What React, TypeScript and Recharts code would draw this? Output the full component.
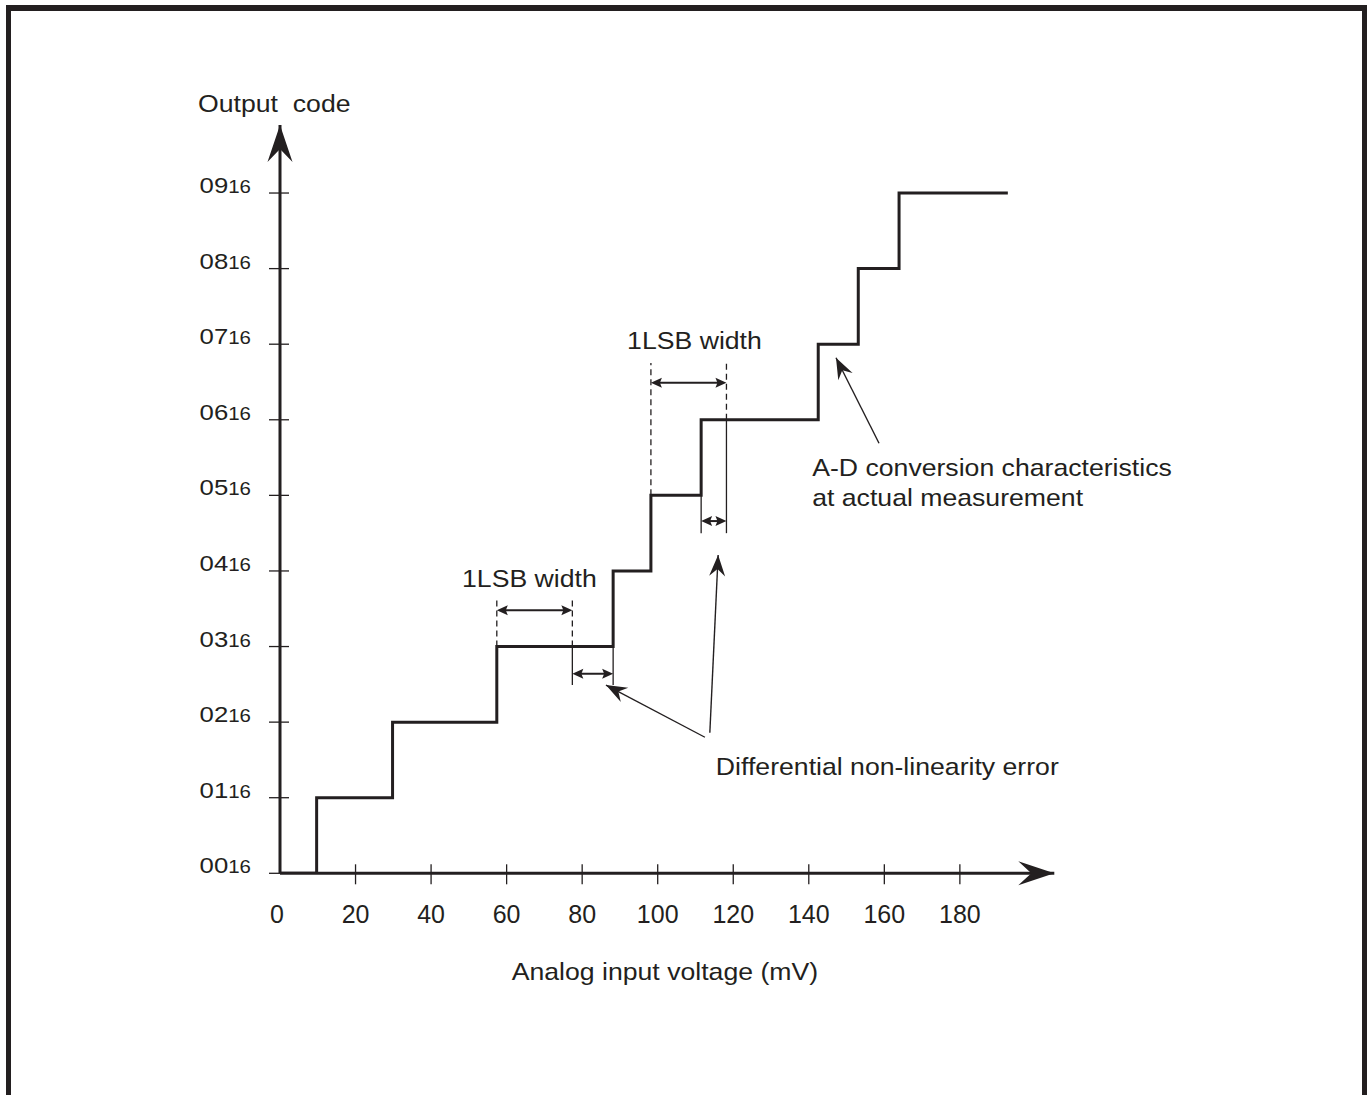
import React from 'react';
import { LineChart, Line, XAxis, YAxis, ReferenceLine, ReferenceDot } from 'recharts';

const INK = '#231f20';
const FONT = '"Liberation Sans", Arial, Helvetica, sans-serif';
const STRETCH = 1.11; // lettering in the original is a bit wider than Liberation Sans

// measured A-D characteristic: voltage (mV) where each code starts
const voltages = [0, 9.7, 29.8, 57.4, 88.2, 98.2, 111.5, 142.5, 153.1, 163.9, 192.7];
const codes = [0, 1, 2, 3, 4, 5, 6, 7, 8, 9, 9];

const xTicks = [0, 20, 40, 60, 80, 100, 120, 140, 160, 180];
const yTicks = [0, 1, 2, 3, 4, 5, 6, 7, 8, 9];
const yTickLabels = ['00', '01', '02', '03', '04', '05', '06', '07', '08', '09'];

// annotation geometry, in chart units (mV, code)
const dashedLines = [
  { x: 57.4, y1: 3, y2: 3.65 },
  { x: 77.4, y1: 3, y2: 3.65 },
  { x: 98.2, y1: 5, y2: 6.75 },
  { x: 118.2, y1: 6, y2: 6.75 },
];
const guideLines = [
  { x: 77.4, y1: 2.49, y2: 3 },
  { x: 88.2, y1: 2.49, y2: 3 },
  { x: 111.5, y1: 4.5, y2: 5 },
  { x: 118.2, y1: 4.5, y2: 6 },
];
const widthArrows = [
  { x1: 57.4, x2: 77.4, y: 3.48 },
  { x1: 77.4, x2: 88.2, y: 2.64 },
  { x1: 98.2, x2: 118.2, y: 6.49 },
  { x1: 111.5, x2: 118.2, y: 4.66 },
];
const pointers = [
  { x1: 158.6, y1: 5.69, x2: 147.2, y2: 6.82 },
  { x1: 112.5, y1: 1.8, x2: 86.3, y2: 2.49 },
  { x1: 113.8, y1: 1.86, x2: 116.0, y2: 4.21 },
];
const notes = [
  { x: 48.2, y: 3.79, text: '1LSB width' },
  { x: 91.9, y: 6.94, text: '1LSB width' },
  { x: 140.9, y: 5.255, text: 'A-D conversion characteristics' },
  { x: 140.9, y: 4.86, text: 'at actual measurement' },
  { x: 115.4, y: 1.3, text: 'Differential non-linearity error' },
];

const data = voltages.map((v, i) => ({ v, code: codes[i] }));

const YTick = (props: any) => {
  const { x, y, payload, index } = props;
  return (
    <g>
      <line x1={x - 11} x2={x + 9} y1={y} y2={y} stroke={INK} strokeWidth={1.3} />
      <text transform={`translate(${x - 29},${y}) scale(1.17,1)`} textAnchor="end" fontFamily={FONT} fill={INK}>
        <tspan fontSize={22}>{yTickLabels[index] ?? payload.value}</tspan>
        <tspan fontSize={17.5}>16</tspan>
      </text>
    </g>
  );
};

const XTick = (props: any) => {
  const { x, y, payload } = props;
  return (
    <g>
      {payload.value > 0 && <line x1={x} x2={x} y1={y - 9} y2={y + 11} stroke={INK} strokeWidth={1.3} />}
      <text x={x - (payload.value === 0 ? 3 : 0)} y={y + 50} textAnchor="middle" fontFamily={FONT} fontSize={25} fill={INK}>
        {payload.value}
      </text>
    </g>
  );
};

const head = (tx: number, ty: number, ang: number, len: number, half: number, notch: number) => {
  const c = Math.cos(ang), s = Math.sin(ang);
  const pt = (a: number, b: number) => `${tx - a * c + b * s},${ty - a * s - b * c}`;
  return `M${tx},${ty} L${pt(len, half)} L${pt(notch, 0)} L${pt(len, -half)} Z`;
};

const DoubleArrow = (p: any) => {
  const ang = Math.atan2(p.y2 - p.y1, p.x2 - p.x1);
  return (
    <g>
      <line x1={p.x1 + 4} y1={p.y1} x2={p.x2 - 4} y2={p.y2} stroke={INK} strokeWidth={2} />
      <path d={head(p.x2, p.y2, ang, 11, 5, 9)} fill={INK} />
      <path d={head(p.x1, p.y1, ang + Math.PI, 11, 5, 9)} fill={INK} />
    </g>
  );
};

const Pointer = (p: any) => {
  const ang = Math.atan2(p.y2 - p.y1, p.x2 - p.x1);
  return (
    <g>
      <line x1={p.x1} y1={p.y1} x2={p.x2} y2={p.y2} stroke={INK} strokeWidth={1.4} />
      <path d={head(p.x2, p.y2, ang, 21, 8, 14)} fill={INK} />
    </g>
  );
};

const textShape = (text: string, anchor: string = 'start') => (p: any) => (
  <text
    transform={`translate(${p.cx},${p.cy}) scale(${STRETCH},1)`}
    textAnchor={anchor} fontFamily={FONT} fontSize={24} fill={INK} style={{ whiteSpace: 'pre' }}
  >
    {text}
  </text>
);

export default function App() {
  return (
    <div style={{ position: 'absolute', left: 0, top: 0, width: 1372, height: 1095, overflow: 'hidden', background: '#fff' }}>
      <div
        style={{
          position: 'absolute', left: 6, top: 5, width: 1361, height: 1090, boxSizing: 'border-box',
          borderLeft: `5px solid ${INK}`, borderTop: `6px solid ${INK}`, borderRight: `5px solid ${INK}`,
        }}
      />
      <div style={{ position: 'absolute', left: 0, top: 0 }}>
        <LineChart width={1372} height={1095} data={data} margin={{ top: 125, left: 220, right: 317.7, bottom: 161.7 }}>
          <XAxis
            dataKey="v" type="number" domain={[0, 205]} ticks={xTicks} allowDataOverflow
            height={60} tickSize={0} tickMargin={0} tickLine={false}
            axisLine={{ stroke: INK, strokeWidth: 3 }} tick={<XTick />} interval={0}
          />
          <YAxis
            type="number" domain={[0, 9.9]} ticks={yTicks} allowDataOverflow
            width={60} tickSize={0} tickMargin={0} tickLine={false}
            axisLine={{ stroke: INK, strokeWidth: 3 }} tick={<YTick />} interval={0}
          />
          {dashedLines.map((d, i) => (
            <ReferenceLine key={'d' + i} ifOverflow="visible" segment={[{ x: d.x, y: d.y1 }, { x: d.x, y: d.y2 }]}
              stroke={INK} strokeWidth={1.3} strokeDasharray="6 4" />
          ))}
          {guideLines.map((d, i) => (
            <ReferenceLine key={'g' + i} ifOverflow="visible" segment={[{ x: d.x, y: d.y1 }, { x: d.x, y: d.y2 }]}
              stroke={INK} strokeWidth={1.3} />
          ))}
          {widthArrows.map((d, i) => (
            <ReferenceLine key={'w' + i} ifOverflow="visible" segment={[{ x: d.x1, y: d.y }, { x: d.x2, y: d.y }]}
              shape={DoubleArrow} />
          ))}
          {pointers.map((d, i) => (
            <ReferenceLine key={'p' + i} ifOverflow="visible" segment={[{ x: d.x1, y: d.y1 }, { x: d.x2, y: d.y2 }]}
              shape={Pointer} />
          ))}
          <Line type="stepAfter" dataKey="code" stroke={INK} strokeWidth={3} dot={false} isAnimationActive={false} />
          {notes.map((n, i) => (
            <ReferenceDot key={'n' + i} x={n.x} y={n.y} r={0} ifOverflow="visible" shape={textShape(n.text)} />
          ))}
          <ReferenceDot x={-21.7} y={10.07} r={0} ifOverflow="visible" shape={textShape('Output  code')} />
          <ReferenceDot x={101.9} y={-1.41} r={0} ifOverflow="visible" shape={textShape('Analog input voltage (mV)', 'middle')} />
          <ReferenceDot x={0} y={9.9} r={0} ifOverflow="visible"
            shape={(p: any) => <path d={head(p.cx, p.cy, -Math.PI / 2, 37, 12.5, 24)} fill={INK} />} />
          <ReferenceDot x={205} y={0} r={0} ifOverflow="visible"
            shape={(p: any) => <path d={head(p.cx, p.cy, 0, 36, 12, 23)} fill={INK} />} />
        </LineChart>
      </div>
    </div>
  );
}
